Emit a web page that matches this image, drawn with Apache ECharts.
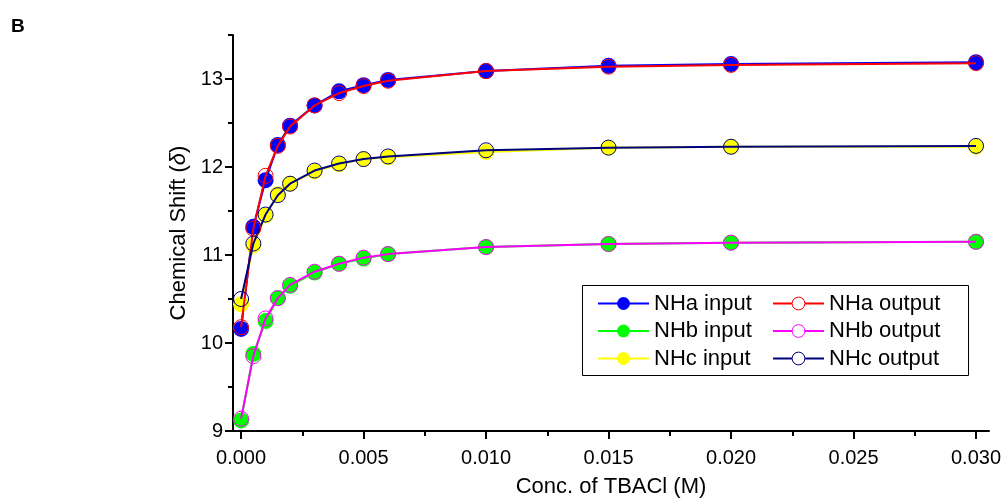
<!DOCTYPE html>
<html>
<head>
<meta charset="utf-8">
<script src="https://cdn.jsdelivr.net/npm/echarts@6/dist/echarts.min.js"></script>
<style>html,body{margin:0;padding:0;background:#fff;}#c{width:1004px;height:500px;}</style>
</head>
<body>
<div id="c"></div>
<script>
const conc = [0, 0.0005, 0.001, 0.0015, 0.002, 0.003, 0.004, 0.005, 0.006, 0.010, 0.015, 0.020, 0.030];
const nhaInput  = [10.16, 11.32, 11.85, 12.25, 12.47, 12.70, 12.86, 12.93, 12.99, 13.09, 13.15, 13.17, 13.19];
const nhaOutput = [10.18, 11.30, 11.90, 12.24, 12.46, 12.70, 12.84, 12.92, 12.98, 13.09, 13.14, 13.16, 13.18];
const nhbInput  = [9.12, 9.875, 10.25, 10.51, 10.65, 10.80, 10.90, 10.96, 11.01, 11.09, 11.125, 11.14, 11.15];
const nhbOutput = [9.14, 9.85, 10.28, 10.51, 10.66, 10.81, 10.90, 10.97, 11.01, 11.09, 11.125, 11.14, 11.15];
const nhcInput  = [10.44, 11.11, 11.45, 11.69, 11.81, 11.95, 12.03, 12.09, 12.11, 12.17, 12.22, 12.23, 12.23];
const nhcOutput = [10.50, 11.13, 11.46, 11.68, 11.81, 11.96, 12.04, 12.09, 12.12, 12.19, 12.22, 12.23, 12.24];
const xMajorTicks = [0, 0.005, 0.010, 0.015, 0.020, 0.025, 0.030];
const xMinorTicks = [0.0025, 0.0075, 0.0125, 0.0175, 0.0225, 0.0275];
const yMajorTicks = [9, 10, 11, 12, 13];
const yMinorTicks = [9.5, 10.5, 11.5, 12.5, 13.5];

const FONT = 'Arial, "Liberation Sans", sans-serif';
const pairs = (ys) => conc.map((x, i) => [x, ys[i]]);

const inputSeries = (name, ys, color) => ({
  name, type: 'line', data: pairs(ys), xAxisIndex: 0, yAxisIndex: 0,
  symbol: 'circle', symbolSize: 16, showSymbol: true,
  lineStyle: { color, width: 2 },
  itemStyle: { color, borderWidth: 0 },
  emphasis: { disabled: true }, animation: false, z: 2
});
const outputSeries = (name, ys, color) => ({
  name, type: 'line', data: pairs(ys), xAxisIndex: 0, yAxisIndex: 0,
  symbol: 'circle', symbolSize: 15, showSymbol: true,
  lineStyle: { color, width: 2 },
  itemStyle: { color: 'rgba(0,0,0,0)', borderColor: color, borderWidth: 1 },
  emphasis: { disabled: true }, animation: false, z: 3
});

const axisBase = {
  axisLine: { show: true, onZero: false, lineStyle: { color: '#000', width: 2 } },
  splitLine: { show: false }
};
const minorAxisBase = {
  axisLine: { show: false, onZero: false }, splitLine: { show: false }, axisLabel: { show: false }
};

const legendBase = {
  orient: 'vertical', itemWidth: 51, itemHeight: 16, itemGap: 5.5,
  textStyle: { fontFamily: FONT, fontSize: 22, color: '#000', lineHeight: 22 },
  selectedMode: false, padding: 0
};

const chart = echarts.init(document.getElementById('c'), null, { renderer: 'canvas' });
chart.setOption({
  animation: false,
  backgroundColor: '#fff',
  title: { text: 'B', left: 6, top: 12, textStyle: { fontFamily: FONT, fontSize: 19, fontWeight: 'bold', color: '#000' } },
  grid: { left: 233, right: 15, top: 35, bottom: 69, containLabel: false, outerBoundsMode: 'none' },
  xAxis: [
    Object.assign({}, axisBase, {
      type: 'value', min: -0.00033, max: 0.03053, position: 'bottom',
      name: 'Conc. of TBACl (M)', nameLocation: 'middle', nameGap: 45,
      nameTextStyle: { fontFamily: FONT, fontSize: 22, color: '#000' },
      axisTick: { show: true, inside: false, length: 8, lineStyle: { color: '#000', width: 2 }, customValues: xMajorTicks },
      axisLabel: { show: true, margin: 17, fontFamily: FONT, fontSize: 20, color: '#000', customValues: xMajorTicks, formatter: v => v.toFixed(3) }
    }),
    Object.assign({}, minorAxisBase, {
      type: 'value', min: -0.00033, max: 0.03053, position: 'bottom', offset: 0,
      axisTick: { show: true, inside: false, length: 5, lineStyle: { color: '#000', width: 2 }, customValues: xMinorTicks }
    })
  ],
  yAxis: [
    Object.assign({}, axisBase, {
      type: 'value', min: 9, max: 13.5, position: 'left',
      name: 'Chemical Shift ({d|δ})', nameLocation: 'middle', nameGap: 35, nameRotate: 90,
      nameTextStyle: { fontFamily: FONT, fontSize: 22, color: '#000',
        rich: { d: { fontFamily: FONT, fontSize: 22, fontStyle: 'italic', color: '#000' } } },
      axisTick: { show: true, inside: false, length: 8, lineStyle: { color: '#000', width: 2 }, customValues: yMajorTicks },
      axisLabel: { show: true, margin: 10, fontFamily: FONT, fontSize: 20, color: '#000', customValues: yMajorTicks, formatter: v => String(v) }
    }),
    Object.assign({}, minorAxisBase, {
      type: 'value', min: 9, max: 13.5, position: 'left', offset: 0,
      axisTick: { show: true, inside: false, length: 5, lineStyle: { color: '#000', width: 2 }, customValues: yMinorTicks }
    })
  ],
  legend: [
    Object.assign({}, legendBase, { left: 597, top: 292.5, data: ['NHa input', 'NHb input', 'NHc input'] }),
    Object.assign({}, legendBase, { left: 772, top: 292.5, data: [
      { name: 'NHa output', itemStyle: { color: '#fff', borderColor: '#ff0000', borderWidth: 1 } },
      { name: 'NHb output', itemStyle: { color: '#fff', borderColor: '#ff00ff', borderWidth: 1 } },
      { name: 'NHc output', itemStyle: { color: '#fff', borderColor: '#000080', borderWidth: 1 } }
    ] })
  ],
  graphic: [
    { type: 'rect', left: 580, top: 283, shape: { width: 386, height: 90 }, style: { fill: 'none', stroke: '#000', lineWidth: 1 }, z: 10, silent: true }
  ],
  series: [
    inputSeries('NHa input', nhaInput, '#0000ff'),
    inputSeries('NHb input', nhbInput, '#00ff00'),
    inputSeries('NHc input', nhcInput, '#ffff00'),
    outputSeries('NHa output', nhaOutput, '#ff0000'),
    outputSeries('NHb output', nhbOutput, '#ff00ff'),
    outputSeries('NHc output', nhcOutput, '#000080')
  ]
});
</script>
</body>
</html>
